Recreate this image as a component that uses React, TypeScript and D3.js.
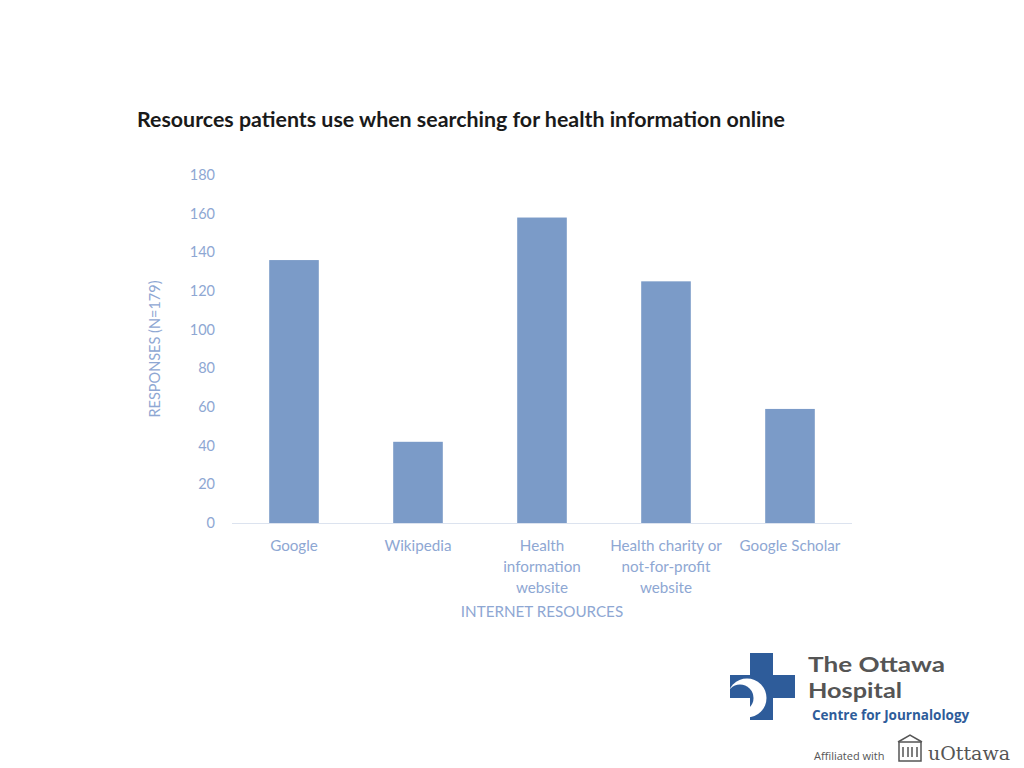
import * as d3 from 'd3';

// chart data
const categories = ["Google", "Wikipedia", "Health information website", "Health charity or not-for-profit website", "Google Scholar"];
const categoryLines = [["Google"], ["Wikipedia"], ["Health", "information", "website"], ["Health charity or", "not-for-profit", "website"], ["Google Scholar"]];
const responses = [136, 42, 158, 125, 59];
const yTicks = [0, 20, 40, 60, 80, 100, 120, 140, 160, 180];

const title = "Resources patients use when searching for health information online";
const yLabel = "RESPONSES (N=179)";
const xLabel = "INTERNET RESOURCES";

const font = "Lato, 'Open Sans', sans-serif";
const barColor = "#7B9BC8";
const textBlue = "#8EA7D3";
const logoBlue = "#2E5C9A";

const Logo = () => (
    <g>
        <defs>
            <clipPath id="crossClip">
                <rect x={750} y={653} width={23} height={67} />
                <rect x={730} y={675} width={65} height={23} />
            </clipPath>
        </defs>
        {/* cross with the white crescent */}
        <g clipPath="url(#crossClip)">
            <rect x={730} y={653} width={65} height={67} fill={logoBlue} />
            <circle cx={747} cy={698} r={19.5} fill="#ffffff" />
            <circle cx={740} cy={698} r={13.5} fill={logoBlue} />
        </g>
        <text x={808} y={672} fontFamily="Lato, sans-serif" fontWeight={700} fontSize={21} textLength={137} lengthAdjust="spacingAndGlyphs" fill="#555555">The Ottawa</text>
        <text x={808} y={698} fontFamily="Lato, sans-serif" fontWeight={700} fontSize={21} textLength={94} lengthAdjust="spacingAndGlyphs" fill="#555555">Hospital</text>
        <text x={812} y={720} fontFamily="'Open Sans', sans-serif" fontWeight={700} fontSize={13.5} fill={logoBlue}>Centre for Journalology</text>
        <text x={814} y={760} fontFamily="'Open Sans', sans-serif" fontSize={11} fill="#555555">Affiliated with</text>
        {/* building icon */}
        <g stroke="#555555" fill="none" strokeWidth={1.5}>
            <path d="M 898 742 L 910 735 L 922 742" />
            <rect x={899} y={742} width={22} height={19} />
            <line x1={903} y1={747} x2={903} y2={757} />
            <line x1={908} y1={747} x2={908} y2={757} />
            <line x1={912} y1={747} x2={912} y2={757} />
            <line x1={917} y1={747} x2={917} y2={757} />
        </g>
        <text x={928} y={760} fontFamily="'DejaVu Serif', 'Liberation Serif', serif" fontSize={19} fill="#555555">uOttawa</text>
    </g>
);

const App = () => {
    const x = d3.scaleBand<string>().domain(categories).range([232, 852]).paddingInner(0.6).paddingOuter(0.3);
    const y = d3.scaleLinear().domain([0, 180]).range([523, 175]);

    return (
        <div style={{ position: "absolute", left: 0, top: 0 }}>
            <svg width={1024} height={768} style={{ display: "block", background: "#ffffff" }}>
                <text x={137} y={127} fontFamily={font} fontWeight={700} fontSize={20.5} textLength={648} lengthAdjust="spacingAndGlyphs" fill="#1a1a1a">{title}</text>

                {yTicks.map(t => (
                    <text key={t} x={215} y={y(t)} dy="0.35em" textAnchor="end" fontFamily={font} fontSize={14.5} fill={textBlue}>{t}</text>
                ))}

                {categories.map((c, i) => (
                    <rect key={c} x={x(c)} y={y(responses[i])} width={x.bandwidth()} height={y(0) - y(responses[i])} fill={barColor} />
                ))}

                <line x1={232} x2={852} y1={y(0) + 0.5} y2={y(0) + 0.5} stroke="#DCE3EF" strokeWidth={1} />

                {categories.map((c, i) => (
                    <text key={c} textAnchor="middle" fontFamily={font} fontSize={15.2} fill={textBlue}>
                        {categoryLines[i].map((line, j) => (
                            <tspan key={j} x={(x(c) ?? 0) + x.bandwidth() / 2} y={551 + j * 21}>{line}</tspan>
                        ))}
                    </text>
                ))}

                <text x={542} y={617} textAnchor="middle" fontFamily={font} fontSize={15.2} fill={textBlue}>{xLabel}</text>
                <text transform={`translate(160, ${y(90)}) rotate(-90)`} textAnchor="middle" fontFamily={font} fontSize={14.5} fill={textBlue}>{yLabel}</text>

                <Logo />
            </svg>
        </div>
    );
};

export default App;
